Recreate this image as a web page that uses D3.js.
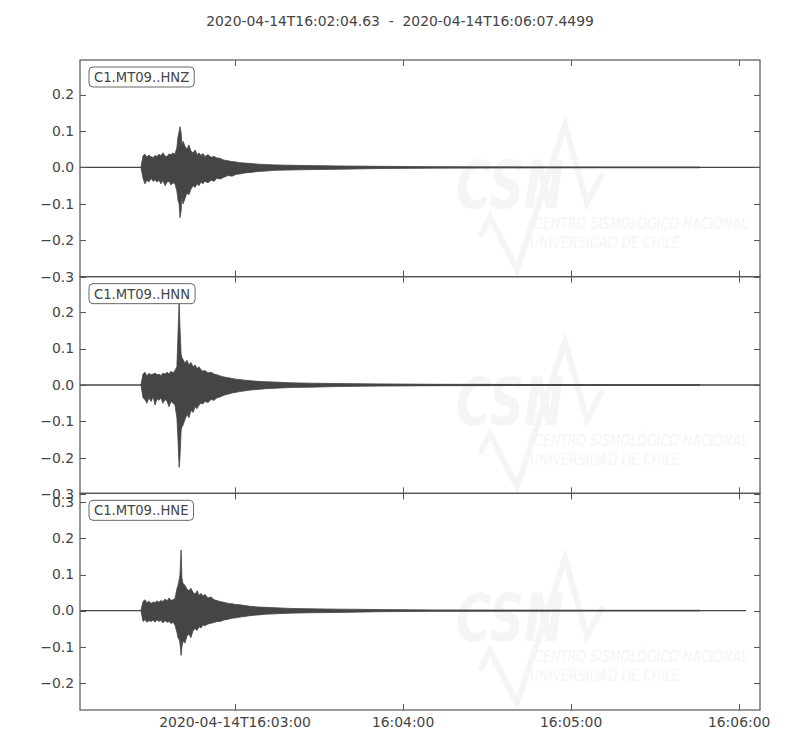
<!DOCTYPE html>
<html>
<head>
<meta charset="utf-8">
<script src="https://cdn.jsdelivr.net/npm/d3@7"></script>
<style>
  html, body { margin: 0; padding: 0; background: #fff; }
  svg { display: block; font-family: "DejaVu Sans", sans-serif; }
</style>
</head>
<body>
<svg id="chart" width="800" height="750"></svg>
<script>
// ---------------- DATA ----------------
const titleText = "2020-04-14T16:02:04.63  -  2020-04-14T16:06:07.4499";
const startISO = "2020-04-14T16:02:04.630Z";
const endISO = "2020-04-14T16:06:07.4499Z";
const channels = ["C1.MT09..HNZ", "C1.MT09..HNN", "C1.MT09..HNE"];
const traceEnd = [242.82, 242.82, 237.8]; // seconds after start
const yDomains = [[-0.300, 0.295], [-0.2975, 0.2975], [-0.2755, 0.325]];
const yTicks = [
  [-0.3, -0.2, -0.1, 0.0, 0.1, 0.2],
  [-0.3, -0.2, -0.1, 0.0, 0.1, 0.2],
  [-0.2, -0.1, 0.0, 0.1, 0.2, 0.3]
];
const xTickISO = ["2020-04-14T16:03:00Z", "2020-04-14T16:04:00Z", "2020-04-14T16:05:00Z", "2020-04-14T16:06:00Z"];
const xTickLabels = ["2020-04-14T16:03:00", "16:04:00", "16:05:00", "16:06:00"];

// envelope sample times (s after start)
const envTime = [21.8, 22.5, 23.2, 23.9, 24.6, 25.4, 26.1, 26.8, 27.5, 28.2, 28.9, 29.6, 30.4, 31.1, 31.8, 32.5, 33.2, 33.9,
  34.6, 35.0, 35.4, 35.7, 36.1, 36.4, 36.8, 37.5, 38.2, 38.9, 39.6, 40.4, 41.1, 41.8, 42.5, 43.2, 43.9, 44.6,
  45.7, 46.8, 47.9, 48.9, 50.0, 51.4, 52.9, 54.3, 55.7, 57.1, 58.9, 60.7, 63.6, 66.4, 69.6, 75.0, 82.1, 92.8,
  107.1, 125.0, 150.0, 185.7, 221.4];

const hnzUpper = [0.002, 0.032, 0.036, 0.028, 0.034, 0.029, 0.027, 0.033, 0.030, 0.036, 0.032, 0.040, 0.031, 0.030, 0.037, 0.035, 0.040, 0.036,
  0.055, 0.085, 0.098, 0.112, 0.095, 0.060, 0.072, 0.058, 0.050, 0.062, 0.045, 0.040, 0.048, 0.035, 0.040, 0.033, 0.038, 0.030,
  0.035, 0.028, 0.030, 0.026, 0.025, 0.020, 0.018, 0.016, 0.015, 0.013, 0.012, 0.011, 0.009, 0.008, 0.007, 0.006, 0.005, 0.004,
  0.003, 0.002, 0.0015, 0.001, 0.001];
const hnzLower = [-0.002, -0.030, -0.045, -0.035, -0.040, -0.030, -0.038, -0.034, -0.040, -0.035, -0.045, -0.036, -0.050, -0.040, -0.038, -0.048, -0.042, -0.045,
  -0.065, -0.090, -0.100, -0.138, -0.120, -0.080, -0.100, -0.085, -0.070, -0.075, -0.060, -0.050, -0.055, -0.045, -0.050, -0.040, -0.045, -0.038,
  -0.042, -0.035, -0.038, -0.030, -0.032, -0.027, -0.022, -0.024, -0.019, -0.018, -0.015, -0.014, -0.011, -0.010, -0.008, -0.007, -0.006, -0.005,
  -0.003, -0.002, -0.0015, -0.001, -0.001];

const hnnUpper = [0.002, 0.030, 0.035, 0.025, 0.032, 0.028, 0.030, 0.033, 0.028, 0.030, 0.026, 0.032, 0.030, 0.035, 0.030, 0.038, 0.033, 0.040,
  0.050, 0.140, 0.230, 0.160, 0.085, 0.075, 0.070, 0.060, 0.068, 0.055, 0.062, 0.050, 0.055, 0.045, 0.050, 0.042, 0.038, 0.040,
  0.033, 0.035, 0.030, 0.028, 0.025, 0.022, 0.020, 0.018, 0.016, 0.015, 0.013, 0.012, 0.010, 0.009, 0.008, 0.006, 0.005, 0.004,
  0.003, 0.002, 0.0015, 0.001, 0.001];
const hnnLower = [-0.002, -0.035, -0.040, -0.050, -0.035, -0.045, -0.032, -0.055, -0.038, -0.042, -0.035, -0.050, -0.040, -0.045, -0.060, -0.045, -0.050, -0.055,
  -0.090, -0.150, -0.226, -0.200, -0.125, -0.115, -0.110, -0.095, -0.080, -0.090, -0.070, -0.075, -0.060, -0.065, -0.055, -0.050, -0.052, -0.045,
  -0.048, -0.040, -0.042, -0.035, -0.033, -0.028, -0.025, -0.022, -0.020, -0.018, -0.016, -0.014, -0.012, -0.010, -0.009, -0.007, -0.006, -0.004,
  -0.003, -0.002, -0.0015, -0.001, -0.001];

const hneUpper = [0.002, 0.025, 0.030, 0.022, 0.026, 0.020, 0.024, 0.022, 0.027, 0.023, 0.028, 0.025, 0.032, 0.027, 0.035, 0.028, 0.030, 0.033,
  0.060, 0.070, 0.085, 0.100, 0.168, 0.090, 0.075, 0.070, 0.060, 0.055, 0.062, 0.050, 0.045, 0.055, 0.042, 0.048, 0.040, 0.045,
  0.035, 0.038, 0.030, 0.028, 0.025, 0.023, 0.020, 0.019, 0.017, 0.016, 0.014, 0.012, 0.010, 0.009, 0.008, 0.006, 0.005, 0.004,
  0.003, 0.002, 0.0015, 0.001, 0.001];
const hneLower = [-0.002, -0.030, -0.025, -0.032, -0.028, -0.030, -0.026, -0.032, -0.025, -0.030, -0.027, -0.034, -0.028, -0.032, -0.030, -0.036, -0.032, -0.040,
  -0.060, -0.075, -0.080, -0.090, -0.124, -0.100, -0.085, -0.090, -0.070, -0.065, -0.075, -0.055, -0.050, -0.055, -0.045, -0.048, -0.040, -0.042,
  -0.037, -0.035, -0.033, -0.030, -0.030, -0.026, -0.024, -0.021, -0.020, -0.018, -0.016, -0.014, -0.012, -0.010, -0.009, -0.007, -0.006, -0.005,
  -0.003, -0.002, -0.0015, -0.001, -0.001];

const uppers = [hnzUpper, hnnUpper, hneUpper];
const lowers = [hnzLower, hnnLower, hneLower];

// ---------------- LAYOUT ----------------
const svg = d3.select("#chart");
const mLeft = 80, mRight = 760, mTop = 60, panelH = 216.67;
const traceColor = "#454545";
const textColor = "#444";
const frameColor = "#555";
const wmColor = "#f5f5f5";
const fs = 13.9;

const t0 = new Date(startISO);
const x = d3.scaleUtc().domain([t0, new Date(endISO)]).range([mLeft, mRight]);
const toDate = s => new Date(t0.getTime() + s * 1000);

svg.append("text")
  .attr("x", 400).attr("y", 26)
  .attr("text-anchor", "middle")
  .style("white-space", "pre")
  .attr("font-size", fs).attr("fill", textColor)
  .text(titleText);

channels.forEach((ch, i) => {
  const y0 = mTop + i * panelH, y1 = mTop + (i + 1) * panelH;
  const y = d3.scaleLinear().domain(yDomains[i]).range([y1, y0]);
  const g = svg.append("g");
  const clipId = "clip" + i;
  svg.append("clipPath").attr("id", clipId).append("rect")
    .attr("x", mLeft).attr("y", y0).attr("width", mRight - mLeft).attr("height", y1 - y0);

  // watermark (CSN logo), placed relative to panel
  const wm = g.append("g");
  const wx = mLeft, wy = y0;
  wm.append("polyline")
    .attr("points", [[400, 177], [410, 157], [437, 210], [485, 65], [507, 143], [523, 113]].map(p => [wx + p[0], wy + p[1]].join(",")).join(" "))
    .attr("fill", "none").attr("stroke", wmColor).attr("stroke-width", 6).attr("stroke-linejoin", "miter");
  wm.append("text").attr("x", wx + 376).attr("y", wy + 148)
    .attr("font-size", 66).attr("font-weight", "bold").attr("font-style", "italic")
    .attr("textLength", 108).attr("lengthAdjust", "spacingAndGlyphs")
    .attr("fill", wmColor).text("CSN");
  wm.append("text").attr("x", wx + 454).attr("y", wy + 169)
    .attr("font-size", 16).attr("font-style", "italic")
    .attr("textLength", 214).attr("lengthAdjust", "spacingAndGlyphs")
    .attr("fill", wmColor).text("CENTRO SISMOLÓGICO NACIONAL");
  wm.append("text").attr("x", wx + 450).attr("y", wy + 188)
    .attr("font-size", 16).attr("font-style", "italic")
    .attr("textLength", 150).attr("lengthAdjust", "spacingAndGlyphs")
    .attr("fill", wmColor).text("UNIVERSIDAD DE CHILE");

  // trace
  const tr = g.append("g").attr("clip-path", `url(#${clipId})`);
  tr.append("line")
    .attr("x1", x(toDate(0))).attr("x2", x(toDate(traceEnd[i])))
    .attr("y1", y(0)).attr("y2", y(0))
    .attr("stroke", traceColor).attr("stroke-width", 1.3);
  const pts = envTime.map((t, k) => ({ t, u: uppers[i][k], l: lowers[i][k] }));
  const area = d3.area().x(d => x(toDate(d.t))).y0(d => y(d.l)).y1(d => y(d.u));
  tr.append("path").attr("d", area(pts))
    .attr("fill", traceColor).attr("stroke", traceColor).attr("stroke-width", 0.8).attr("stroke-linejoin", "miter");

  // frame
  g.append("rect").attr("x", mLeft).attr("y", y0).attr("width", mRight - mLeft).attr("height", y1 - y0)
    .attr("fill", "none").attr("stroke", frameColor).attr("stroke-width", 1.2);

  // y ticks both sides
  yTicks[i].forEach(v => {
    const yy = Math.round(y(v)) + 0.5;
    g.append("line").attr("x1", mLeft).attr("x2", mLeft + 6).attr("y1", yy).attr("y2", yy).attr("stroke", frameColor);
    g.append("line").attr("x1", mRight - 6).attr("x2", mRight).attr("y1", yy).attr("y2", yy).attr("stroke", frameColor);
    g.append("text").attr("x", 74).attr("y", y(v)).attr("dy", "0.35em")
      .attr("text-anchor", "end").attr("font-size", fs).attr("fill", textColor)
      .text(d3.format(".1f")(v).replace("-", "\u2212"));
  });

  // x ticks top & bottom (inward)
  xTickISO.forEach(s => {
    const xx = Math.round(x(new Date(s))) + 0.5;
    g.append("line").attr("x1", xx).attr("x2", xx).attr("y1", y1).attr("y2", y1 - 6).attr("stroke", frameColor);
    g.append("line").attr("x1", xx).attr("x2", xx).attr("y1", y0).attr("y2", y0 + 6).attr("stroke", frameColor);
  });

  // channel label box
  const lbl = g.append("g");
  const txt = lbl.append("text").attr("x", mLeft + 14).attr("y", y0 + 22)
    .attr("font-size", 13.2).attr("fill", textColor).text(ch);
  const bb = txt.node().getBBox();
  lbl.insert("rect", "text")
    .attr("x", bb.x - 5).attr("y", bb.y - 3).attr("width", bb.width + 10).attr("height", bb.height + 5)
    .attr("rx", 4).attr("ry", 4).attr("fill", "#fff").attr("stroke", "#666").attr("stroke-width", 1);
});

// bottom x tick labels
const bottomY = mTop + 3 * panelH;
xTickISO.forEach((s, k) => {
  svg.append("text").attr("x", x(new Date(s))).attr("y", bottomY + 17)
    .attr("text-anchor", "middle").attr("font-size", fs).attr("fill", textColor)
    .text(xTickLabels[k]);
});
</script>
</body>
</html>
